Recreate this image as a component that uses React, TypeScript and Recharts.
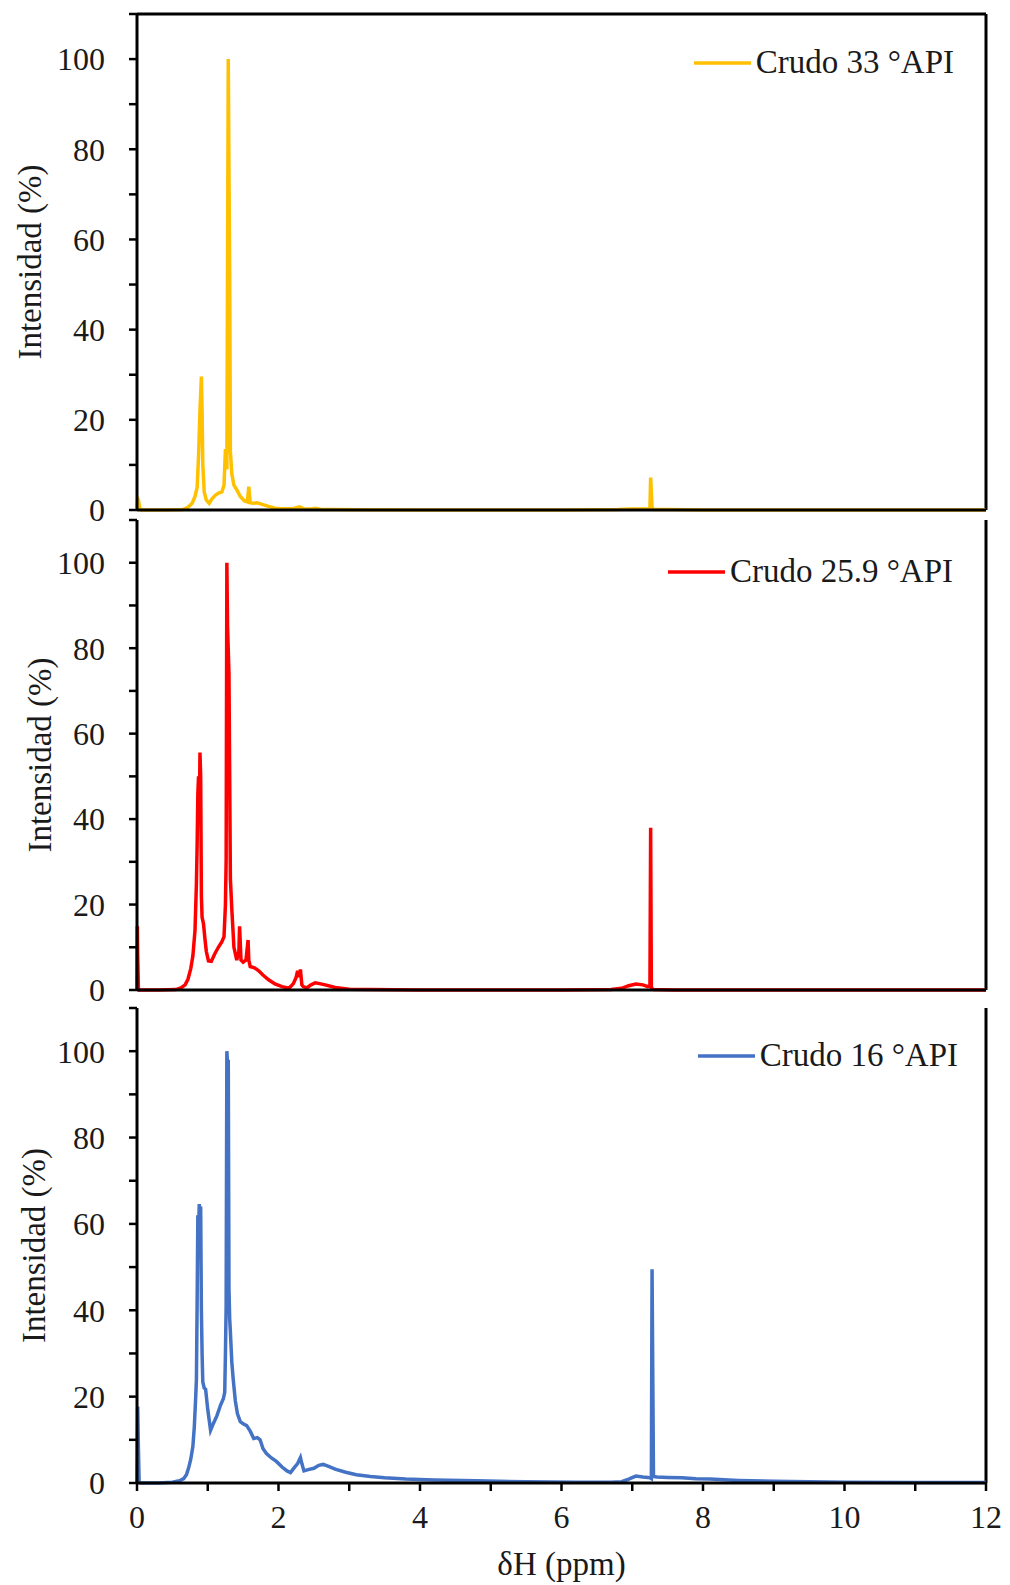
import React from 'react';
import { LineChart, Line, XAxis, YAxis, ReferenceLine, Legend } from 'recharts';

// [δH ppm, intensity %]
const crudo33: [number, number][] = [
  [0, 0.5], [0.01, 2.5], [0.02, 2.2], [0.04, 0.3], [0.06, 0], [0.4, 0], [0.65, 0.1], [0.72, 0.6],
  [0.78, 1.5], [0.82, 3], [0.85, 5], [0.87, 12], [0.89, 22], [0.91, 29.6], [0.92, 22], [0.93, 10],
  [0.95, 4], [0.98, 2.2], [1.02, 1.5], [1.06, 2.5], [1.11, 3.3], [1.16, 3.8], [1.2, 4], [1.23, 5.5],
  [1.25, 13.5], [1.27, 9], [1.29, 100], [1.3, 75], [1.31, 52], [1.32, 13], [1.34, 8], [1.37, 5.5],
  [1.41, 4.5], [1.46, 3], [1.52, 2], [1.56, 1.8], [1.58, 5.2], [1.6, 1.6], [1.64, 1.5], [1.7, 1.6],
  [1.78, 1.2], [1.86, 0.8], [1.95, 0.4], [2.05, 0.3], [2.2, 0.3], [2.3, 0.7], [2.35, 0.3], [2.45, 0.2],
  [2.52, 0.4], [2.6, 0.1], [2.8, 0.1], [3.1, 0.05], [4, 0], [5, 0], [6, 0], [6.8, 0.1], [7.0, 0.2],
  [7.2, 0.2], [7.25, 0.3], [7.26, 7.2], [7.28, 0.5], [7.3, 0.1], [7.5, 0.1], [8, 0], [9, 0], [10, 0],
  [11, 0], [12, 0],
];

const crudo259: [number, number][] = [
  [0, 0], [0.005, 14.9], [0.01, 8], [0.02, 0.2], [0.03, 0], [0.3, 0], [0.55, 0.1], [0.62, 0.5],
  [0.68, 1.2], [0.72, 2.5], [0.76, 5], [0.79, 8], [0.82, 14], [0.84, 25], [0.85, 34], [0.86, 46],
  [0.87, 50], [0.88, 40], [0.89, 55.6], [0.9, 50], [0.91, 22], [0.92, 17], [0.94, 15.5], [0.96, 12],
  [0.98, 9], [1.01, 6.8], [1.05, 6.7], [1.1, 8.5], [1.15, 10], [1.2, 11.3], [1.23, 12.5], [1.25, 20],
  [1.26, 30.5], [1.27, 100], [1.28, 85], [1.3, 74], [1.32, 26], [1.34, 19], [1.37, 10], [1.41, 7],
  [1.44, 9], [1.45, 14.9], [1.47, 7], [1.5, 6.5], [1.54, 7], [1.57, 11.7], [1.58, 7], [1.6, 5.5],
  [1.66, 5.2], [1.72, 4.5], [1.78, 3.5], [1.86, 2.4], [1.95, 1.4], [2.05, 0.8], [2.15, 0.4],
  [2.21, 1.5], [2.25, 3], [2.27, 4.5], [2.29, 3], [2.31, 4.8], [2.33, 1.2], [2.35, 0.8], [2.4, 0.5],
  [2.46, 1.2], [2.52, 1.7], [2.58, 1.5], [2.66, 1.2], [2.8, 0.6], [3.0, 0.2], [3.3, 0.1], [4, 0],
  [5, 0], [6, 0], [6.7, 0.1], [6.85, 0.4], [6.95, 1.0], [7.05, 1.4], [7.15, 1.2], [7.22, 0.8],
  [7.25, 1.0], [7.26, 38], [7.27, 0.5], [7.3, 0.1], [7.6, 0], [8, 0], [9, 0], [10, 0], [11, 0], [12, 0],
];

const crudo16: [number, number][] = [
  [0, 0], [0.01, 17.7], [0.02, 8], [0.03, 0.3], [0.05, 0], [0.3, 0], [0.5, 0.2], [0.6, 0.5],
  [0.66, 1.0], [0.7, 2.0], [0.73, 3.5], [0.76, 5.5], [0.79, 8.5], [0.81, 13], [0.83, 20], [0.84, 24],
  [0.85, 42], [0.86, 62], [0.87, 58], [0.88, 64.6], [0.89, 62], [0.9, 64], [0.91, 40], [0.92, 30],
  [0.93, 23.4], [0.95, 22], [0.97, 21.7], [1.0, 17], [1.04, 12.2], [1.08, 13.8], [1.13, 15.6],
  [1.18, 18], [1.22, 19.5], [1.24, 21], [1.25, 30], [1.26, 41], [1.27, 100], [1.28, 97], [1.29, 98],
  [1.3, 45], [1.31, 38], [1.32, 35], [1.34, 28], [1.36, 24], [1.39, 19], [1.42, 16], [1.46, 14.2],
  [1.5, 13.7], [1.55, 13.3], [1.6, 12], [1.65, 10.3], [1.7, 10.5], [1.74, 10], [1.78, 8], [1.83, 6.8],
  [1.9, 5.8], [1.97, 5], [2.05, 3.7], [2.12, 2.8], [2.17, 2.4], [2.22, 3.5], [2.27, 4.5], [2.31, 5.9],
  [2.33, 4.5], [2.36, 2.8], [2.42, 3.1], [2.5, 3.4], [2.57, 4.1], [2.63, 4.3], [2.7, 3.9], [2.8, 3.2],
  [2.95, 2.5], [3.1, 1.9], [3.3, 1.5], [3.5, 1.2], [3.8, 0.9], [4.2, 0.7], [4.8, 0.5], [5.5, 0.3],
  [6.2, 0.2], [6.7, 0.2], [6.85, 0.3], [6.95, 0.9], [7.05, 1.6], [7.15, 1.4], [7.22, 1.3], [7.25, 1.2],
  [7.27, 1.0], [7.28, 49.5], [7.3, 1.5], [7.35, 1.4], [7.5, 1.3], [7.7, 1.2], [7.9, 1.0], [8.1, 0.9],
  [8.5, 0.6], [9, 0.4], [9.5, 0.3], [10, 0.2], [11, 0.1], [12, 0.1],
];

const xTicks = [0, 1, 2, 3, 4, 5, 6, 7, 8, 9, 10, 11, 12];
const yTicks = [0, 10, 20, 30, 40, 50, 60, 70, 80, 90, 100, 110];

const FONT = '"Liberation Serif", "Times New Roman", serif';
const TEXT = '#1a1a1a';

const toRows = (pts: [number, number][]) => pts.map(([x, y]) => ({ x, y }));

interface PanelProps {
  data: [number, number][];
  color: string;
  name: string;
  top: number;
  marginTop: number;
  plotHeight: number;
  xAxisHeight: number;
  showXLabels?: boolean;
  topBorder?: boolean;
  titleX: number;
  legendY: number;
  legendRight: number;
}

const Panel: React.FC<PanelProps> = (p) => {
  const height = p.marginTop + p.plotHeight + p.xAxisHeight;

  const yTitle = (props: any) => {
    const vb = props.viewBox;
    const cy = vb.y + vb.height / 2;
    return (
      <text x={p.titleX} y={cy} transform={`rotate(-90 ${p.titleX} ${cy})`} textAnchor="middle"
        dominantBaseline="central" fontFamily={FONT} fontSize={33} fill={TEXT}>
        Intensidad (%)
      </text>
    );
  };

  const xTitle = (props: any) => {
    const vb = props.viewBox;
    return (
      <text x={vb.x + vb.width / 2} y={vb.y + 81} textAnchor="middle" dominantBaseline="central"
        fontFamily={FONT} fontSize={33} fill={TEXT}>
        δH (ppm)
      </text>
    );
  };

  const renderLegend = () => (
    <div style={{ display: 'flex', alignItems: 'center', fontFamily: FONT, fontSize: 33, color: TEXT, lineHeight: 1 }}>
      <svg width={57} height={6} style={{ marginRight: 5 }}>
        <line x1={0} y1={3} x2={57} y2={3} stroke={p.color} strokeWidth={3.5} />
      </svg>
      <span style={{ whiteSpace: 'nowrap' }}>{p.name}</span>
    </div>
  );

  return (
    <div style={{ position: 'absolute', left: 0, top: p.top }}>
      <LineChart width={1010} height={height} data={toRows(p.data)}
        margin={{ top: p.marginTop, right: 24, bottom: 0, left: 0 }}>
        <XAxis type="number" dataKey="x" domain={[0, 12]} ticks={xTicks} interval={0}
          height={p.xAxisHeight} tickSize={8} tickMargin={14}
          axisLine={{ stroke: '#000', strokeWidth: 3 }} tickLine={{ stroke: '#000', strokeWidth: 2.5 }}
          tick={p.showXLabels ? { fontFamily: FONT, fontSize: 32, fill: TEXT } : false}
          tickFormatter={(v: number) => (v % 2 === 0 ? String(v) : '')}
          label={p.showXLabels ? xTitle : undefined} />
        <YAxis type="number" domain={[0, 110]} ticks={yTicks} interval={0} width={137}
          tickSize={8} tickMargin={24}
          axisLine={{ stroke: '#000', strokeWidth: 3 }} tickLine={{ stroke: '#000', strokeWidth: 2.5 }}
          tick={{ fontFamily: FONT, fontSize: 32, fill: TEXT }}
          tickFormatter={(v: number) => (v % 20 === 0 && v <= 100 ? String(v) : '')}
          label={yTitle} />
        <ReferenceLine x={12} stroke="#000" strokeWidth={3} />
        {p.topBorder && <ReferenceLine y={110} stroke="#000" strokeWidth={3} />}
        <Legend layout="horizontal" verticalAlign="middle" align="center" content={renderLegend}
          wrapperStyle={{ top: p.legendY - 17, right: p.legendRight, left: 'auto', width: 'auto', height: 'auto' }} />
        <Line type="linear" dataKey="y" name={p.name} stroke={p.color} strokeWidth={3.5} dot={false}
          activeDot={false} isAnimationActive={false} />
      </LineChart>
    </div>
  );
};

export default function App() {
  return (
    <div style={{ position: 'absolute', left: 0, top: 0, width: 1010, height: 1585, background: '#fff' }}>
      <Panel data={crudo33} color="#FFC000" name="Crudo 33 °API" top={0} marginTop={14} plotHeight={496}
        xAxisHeight={30} topBorder titleX={30} legendY={63} legendRight={56} />
      <Panel data={crudo259} color="#FF0000" name="Crudo 25.9 °API" top={510} marginTop={10} plotHeight={470}
        xAxisHeight={30} titleX={40} legendY={62} legendRight={57} />
      <Panel data={crudo16} color="#4472C4" name="Crudo 16 °API" top={1000} marginTop={8} plotHeight={475}
        xAxisHeight={102} showXLabels titleX={34} legendY={56} legendRight={52} />
    </div>
  );
}
